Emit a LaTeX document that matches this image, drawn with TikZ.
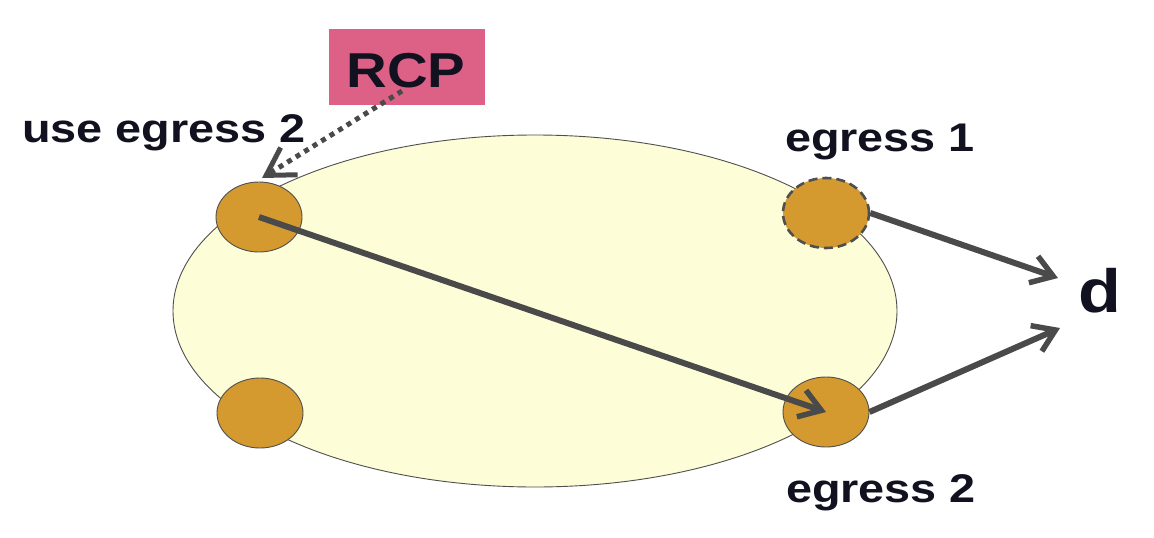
\documentclass[tikz,border=0pt]{standalone}
\usepackage{fontspec}
\newfontfamily\hv{Liberation Sans}
\usetikzlibrary{shapes.geometric,arrows.meta,calc}
\definecolor{cloud}{HTML}{FDFDD7}
\definecolor{gold}{HTML}{D49A2F}
\definecolor{edge}{HTML}{4F4F4F}
\definecolor{arrowc}{HTML}{4A4A4A}
\definecolor{pinkbox}{HTML}{DD6186}
\definecolor{txt}{HTML}{111120}
\tikzset{
  router/.style={ellipse, draw=edge, line width=0.9pt, fill=gold, minimum width=86pt, minimum height=70pt, inner sep=0pt},
  lbl/.style={font=\hv\bfseries\fontsize{40}{44}\selectfont, text=txt, inner sep=0pt, anchor=base},
  arr/.style={draw=arrowc, line width=6pt, -{Straight Barb[length=21pt,width=28pt,line width=5.5pt]}},
}
\newcommand{\wide}[1]{\scalebox{1.17}[1]{#1}}
\begin{document}
\begin{tikzpicture}[x=1pt,y=-1pt]
\useasboundingbox (0,0) rectangle (1154,538);
\fill[white] (0,0) rectangle (1154,538);
\node[ellipse, draw=edge, line width=0.9pt, fill=cloud, minimum width=724pt, minimum height=352pt] (net) at (535,311) {};
\node[router] (tl) at (259,217) {};
\node[router] (bl) at (260,413) {};
\node[router, dashed, dash pattern=on 9pt off 5pt, line width=2.6pt] (e1) at (826,213) {};
\node[router] (e2) at (826,412) {};
\node[fill=pinkbox, minimum width=156pt, minimum height=76pt, inner sep=0pt] (rcp) at (407,67) {};
\node[lbl, font=\hv\bfseries\fontsize{49}{52}\selectfont] (rcpt) at (406,87) {\scalebox{1.15}[1]{RCP}};
\node[lbl] (use) at (164,142) {\wide{use egress 2}};
\node[lbl] (l1) at (880,151) {\wide{egress 1}};
\node[lbl] (l2) at (881,502) {\wide{egress 2}};
\node[lbl, font=\hv\bfseries\fontsize{61}{64}\selectfont] (d) at (1100,312) {\scalebox{1.15}[1]{d}};
\coordinate (d1) at (1058,278);
\coordinate (d2) at (1060,328);
\coordinate (r0) at (402,91);
\coordinate (t0) at (262,178);
\draw[arr] (tl.center) -- (e2.center);
\draw[arr] (e1.east) -- (d1);
\draw[arr] (e2.east) -- (d2);
\draw[draw=arrowc, line width=5pt, dash pattern=on 5pt off 5pt, -{Straight Barb[length=27pt,width=32pt,line width=5pt]}] (r0) -- (t0);
\end{tikzpicture}
\end{document}
